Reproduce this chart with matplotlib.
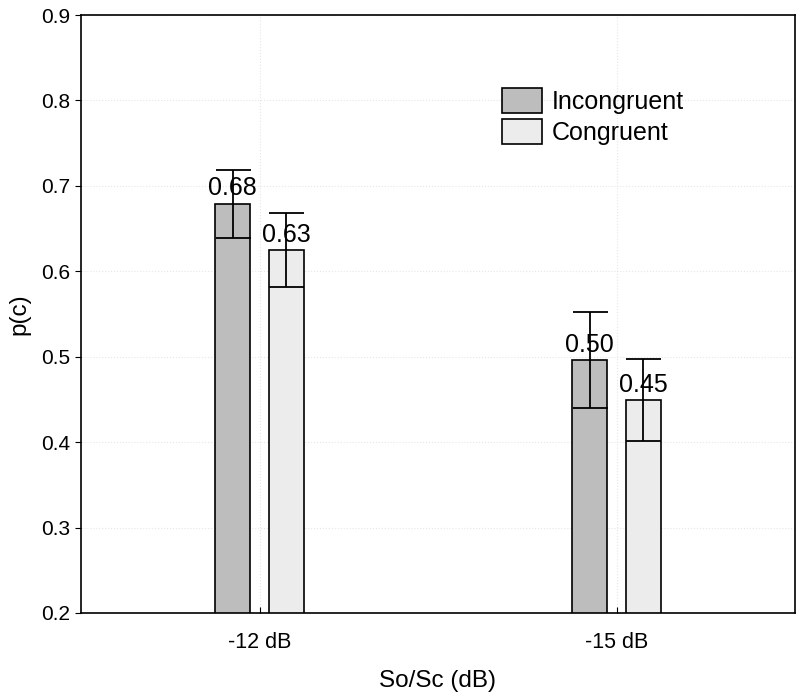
import matplotlib
matplotlib.use("Agg")
import matplotlib.pyplot as plt
import numpy as np

categories = ["-12 dB", "-15 dB"]
incongruent = [0.679, 0.496]
congruent = [0.625, 0.449]
incongruent_err = [0.040, 0.056]
congruent_err = [0.043, 0.048]
labels_inc = ["0.68", "0.50"]
labels_con = ["0.63", "0.45"]

plt.rcParams['font.family'] = ['Liberation Sans', 'DejaVu Sans']

fig = plt.figure(figsize=(8, 6.97), dpi=100)
ax = fig.add_axes([81/800, 1-613/697, (795-81)/800, (613-15)/697])

x = np.arange(len(categories))
w = 0.098
off = 0.075
ax.bar(x - off, incongruent, w, bottom=0, color='#bdbdbd', edgecolor='black', linewidth=1.2,
       label='Incongruent', zorder=2)
ax.bar(x + off, congruent, w, bottom=0, color='#ececec', edgecolor='black', linewidth=1.2,
       label='Congruent', zorder=2)
ax.errorbar(x - off, incongruent, yerr=incongruent_err, fmt='none', ecolor='black',
            elinewidth=1.3, capsize=12.6, capthick=1.3, zorder=3)
ax.errorbar(x + off, congruent, yerr=congruent_err, fmt='none', ecolor='black',
            elinewidth=1.3, capsize=12.6, capthick=1.3, zorder=3)
for xi, v, t in zip(x - off, incongruent, labels_inc):
    ax.text(xi, v + 0.004, t, ha='center', va='bottom', fontsize=18, zorder=4)
for xi, v, t in zip(x + off, congruent, labels_con):
    ax.text(xi, v + 0.004, t, ha='center', va='bottom', fontsize=18, zorder=4)

ax.set_xlim(-0.5, 1.5)
ax.set_ylim(0.2, 0.9)
ax.set_yticks(np.arange(0.2, 0.91, 0.1))
ax.set_yticklabels([f"{v:.1f}" for v in np.arange(0.2, 0.91, 0.1)], fontsize=15)
ax.set_xticks(x)
ax.set_xticklabels(categories, fontsize=15.5)
ax.tick_params(axis='x', direction='in', length=4, pad=14)
ax.tick_params(axis='y', direction='out', length=4)
ax.grid(True, color='#e6e6e6', linestyle=':', linewidth=0.8, zorder=0)
ax.set_axisbelow(True)
for s in ax.spines.values():
    s.set_linewidth(1.2)
ax.set_xlabel("So/Sc (dB)", fontsize=17.5, labelpad=12)
ax.set_ylabel("p(c)", fontsize=17.5, labelpad=8)
ax.legend(loc='upper left', bbox_to_anchor=(0.589, 0.878), frameon=False, fontsize=18,
          handlelength=1.6, handleheight=1.15, handletextpad=0.4, labelspacing=0.2,
          borderaxespad=0, borderpad=0)

fig.savefig("out.png", dpi=100)
